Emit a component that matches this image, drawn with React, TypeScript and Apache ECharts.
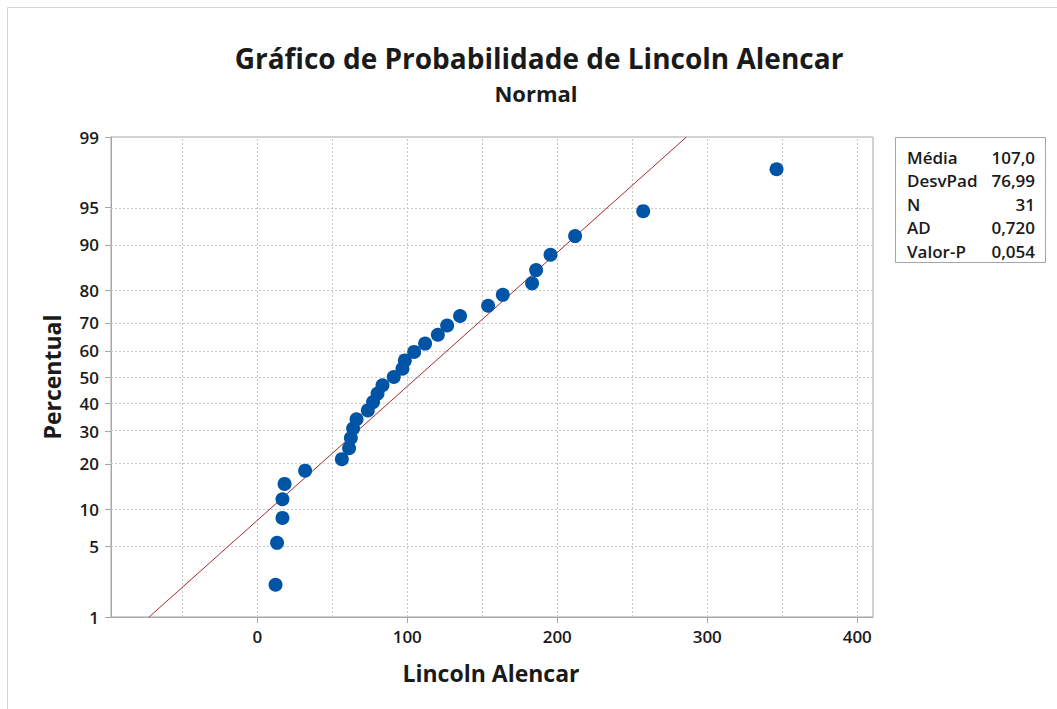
import React, { useEffect, useRef } from "react";
import * as echarts from "echarts";

const titleText = "Gráfico de Probabilidade de Lincoln Alencar";
const subtitleText = "Normal";
const xAxisName = "Lincoln Alencar";
const yAxisName = "Percentual";

// observed values (x) and their plotted percentiles (y)
const dataValues = [
  12.2, 13.2, 16.8, 16.8, 18.2, 31.9, 56.4, 61.2, 62.4, 63.9, 66.2, 73.7, 77.2, 80.2, 83.5, 91.0,
  96.8, 98.4, 104.6, 111.9, 120.4, 126.6, 135.2, 153.9, 163.7, 183.2, 185.9, 195.5, 211.9, 257.3, 346.2,
];
const dataPercents = [
  2.2, 5.4, 8.6, 11.8, 15.0, 18.2, 21.3, 24.5, 27.7, 30.9, 34.1, 37.3, 40.4, 43.6, 46.8, 50.0,
  53.2, 56.4, 59.6, 62.7, 65.9, 69.1, 72.3, 75.5, 78.7, 81.8, 85.0, 88.2, 91.4, 94.6, 97.8,
];

const yTickPercents = [1, 5, 10, 20, 30, 40, 50, 60, 70, 80, 90, 95, 99];
const xTickValues = [0, 100, 200, 300, 400];
const xGridValues = [-50, 0, 50, 100, 150, 200, 250, 300, 350, 400];
const xMin = -97.5;
const xMax = 410.5;

const fitMean = 107.0;
const fitStdDev = 76.99;
const fitPercentRange = [1, 99];

const statLabels = ["Média", "DesvPad", "N", "AD", "Valor-P"];
const statValues = ["107,0", "76,99", "31", "0,720", "0,054"];

// inverse standard normal CDF (probability-scale transform of the axis)
function probit(p: number): number {
  const a = [-3.969683028665376e1, 2.209460984245205e2, -2.759285104469687e2, 1.38357751867269e2, -3.066479806614716e1, 2.506628277459239];
  const b = [-5.447609879822406e1, 1.615858368580409e2, -1.556989798598866e2, 6.680131188771972e1, -1.328068155288572e1];
  const c = [-7.784894002430293e-3, -3.223964580411365e-1, -2.400758277161838, -2.549732539343734, 4.374664141464968, 2.938163982698783];
  const d = [7.784695709041462e-3, 3.224671290700398e-1, 2.445134137142996, 3.754408661907416];
  const pLow = 0.02425;
  const pHigh = 1 - pLow;
  let q: number, r: number;
  if (p < pLow) {
    q = Math.sqrt(-2 * Math.log(p));
    return (((((c[0] * q + c[1]) * q + c[2]) * q + c[3]) * q + c[4]) * q + c[5]) /
      ((((d[0] * q + d[1]) * q + d[2]) * q + d[3]) * q + 1);
  } else if (p <= pHigh) {
    q = p - 0.5;
    r = q * q;
    return (((((a[0] * r + a[1]) * r + a[2]) * r + a[3]) * r + a[4]) * r + a[5]) * q /
      (((((b[0] * r + b[1]) * r + b[2]) * r + b[3]) * r + b[4]) * r + 1);
  } else {
    q = Math.sqrt(-2 * Math.log(1 - p));
    return -(((((c[0] * q + c[1]) * q + c[2]) * q + c[3]) * q + c[4]) * q + c[5]) /
      ((((d[0] * q + d[1]) * q + d[2]) * q + d[3]) * q + 1);
  }
}

const FONT = "'Open Sans', 'Noto Sans', sans-serif";
const TEXT_COLOR = "#1a1a1a";

export default function App() {
  const ref = useRef<HTMLDivElement>(null);

  useEffect(() => {
    document.body.style.margin = "0";
    if (!ref.current) return;
    const chart = echarts.init(ref.current, undefined, { renderer: "svg" });

    const yTickZ = yTickPercents.map((p) => probit(p / 100));
    const zMin = yTickZ[0];
    const zMax = yTickZ[yTickZ.length - 1];
    const points = dataValues.map((v, i) => [v, probit(dataPercents[i] / 100)]);
    const fitLine = fitPercentRange.map((p) => {
      const z = probit(p / 100);
      return [fitMean + fitStdDev * z, z];
    });

    const gridLineStyle = { color: "#c8c8c8", width: 1, type: [2, 2] as any };

    const statsGraphic: any[] = [];
    statLabels.forEach((lab, i) => {
      const y = 157 + i * 23.5;
      statsGraphic.push({
        type: "text", x: 907, y, style: { text: lab, fill: TEXT_COLOR, font: `600 17px ${FONT}`, textAlign: "left", textVerticalAlign: "middle" },
      });
      statsGraphic.push({
        type: "text", x: 1035, y, style: { text: statValues[i], fill: TEXT_COLOR, font: `600 17px ${FONT}`, textAlign: "right", textVerticalAlign: "middle" },
      });
    });

    chart.setOption({
      animation: false,
      backgroundColor: "#ffffff",
      grid: {
        left: 111, right: 184, top: 137, bottom: 92,
        show: true, borderColor: "#a6a6a6", borderWidth: 1, backgroundColor: "transparent",
      },
      xAxis: {
        type: "value",
        min: xMin,
        max: xMax,
        axisLine: { show: true, onZero: false, lineStyle: { color: "#a6a6a6" } },
        axisTick: { show: true, length: 6, customValues: xTickValues, lineStyle: { color: "#a6a6a6" } },
        axisLabel: {
          customValues: xTickValues, margin: 11, color: TEXT_COLOR, fontSize: 17, fontWeight: 600, fontFamily: FONT,
        },
        splitLine: { show: false },
      },
      yAxis: {
        type: "value",
        min: zMin,
        max: zMax,
        axisLine: { show: true, onZero: false, lineStyle: { color: "#a6a6a6" } },
        axisTick: { show: true, length: 6, customValues: yTickZ, lineStyle: { color: "#a6a6a6" } },
        axisLabel: {
          customValues: yTickZ,
          showMinLabel: true,
          showMaxLabel: true,
          margin: 12,
          color: TEXT_COLOR,
          fontSize: 17,
          fontWeight: 600,
          fontFamily: FONT,
          formatter: (v: number) => {
            let best = 0;
            yTickZ.forEach((z, i) => {
              if (Math.abs(z - v) < Math.abs(yTickZ[best] - v)) best = i;
            });
            return String(yTickPercents[best]);
          },
        },
        splitLine: { show: false },
      },
      series: [
        {
          type: "line",
          data: fitLine,
          symbol: "none",
          z: 2,
          silent: true,
          lineStyle: { color: "#a8282c", width: 1 },
          markLine: {
            silent: true,
            symbol: ["none", "none"],
            label: { show: false },
            lineStyle: gridLineStyle,
            z: 1,
            data: [
              ...xGridValues.map((v) => ({ xAxis: v })),
              ...yTickZ.slice(1, -1).map((z) => ({ yAxis: z })),
            ],
          },
        },
        {
          type: "scatter",
          data: points,
          symbol: "circle",
          symbolSize: 14,
          z: 3,
          itemStyle: { color: "#0054a6", opacity: 1 },
        },
      ],
      graphic: [
        { type: "line", shape: { x1: 7.5, y1: 7.5, x2: 1057, y2: 7.5 }, style: { stroke: "#d4d4d4", lineWidth: 1 } },
        { type: "line", shape: { x1: 7.5, y1: 7.5, x2: 7.5, y2: 709 }, style: { stroke: "#d4d4d4", lineWidth: 1 } },
        {
          type: "text", x: 539, y: 58,
          style: { text: titleText, fill: TEXT_COLOR, font: `bold 28px ${FONT}`, textAlign: "center", textVerticalAlign: "middle" },
        },
        {
          type: "text", x: 536, y: 93,
          style: { text: subtitleText, fill: TEXT_COLOR, font: `bold 22px ${FONT}`, textAlign: "center", textVerticalAlign: "middle" },
        },
        {
          type: "text", x: 491, y: 673,
          style: { text: xAxisName, fill: TEXT_COLOR, font: `bold 23px ${FONT}`, textAlign: "center", textVerticalAlign: "middle" },
        },
        {
          type: "text", x: 52, y: 377, rotation: Math.PI / 2,
          style: { text: yAxisName, fill: TEXT_COLOR, font: `bold 23px ${FONT}`, textAlign: "center", textVerticalAlign: "middle" },
        },
        {
          type: "rect", shape: { x: 895.5, y: 137.5, width: 150, height: 125 },
          style: { fill: "#ffffff", stroke: "#a6a6a6", lineWidth: 1 },
        },
        ...statsGraphic,
      ],
    });

    return () => chart.dispose();
  }, []);

  return <div ref={ref} style={{ width: 1057, height: 709 }} />;
}
